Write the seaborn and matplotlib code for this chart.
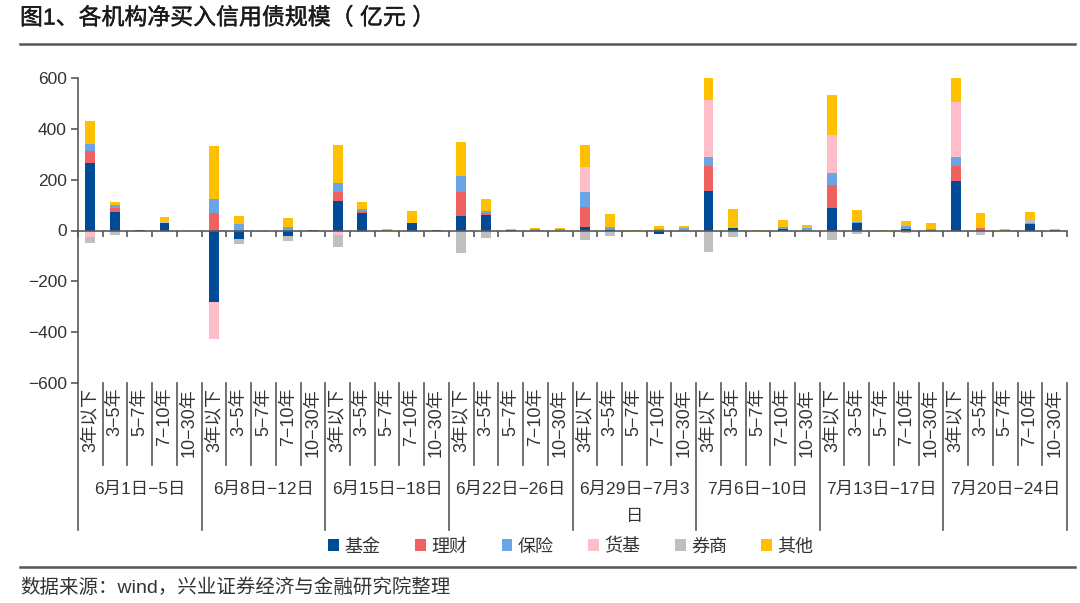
import numpy as np
import pandas as pd
import matplotlib
matplotlib.use("Agg")
import matplotlib.pyplot as plt
import matplotlib.transforms as mtransforms
import matplotlib.patheffects as pe
from matplotlib.lines import Line2D
from matplotlib.patches import Patch
import seaborn as sns

plt.rcParams['font.family'] = ['Liberation Sans', 'Noto Sans CJK SC']
plt.rcParams['axes.unicode_minus'] = True

# ---------------- data ----------------
weeks = ["6月1日−5日", "6月8日−12日", "6月15日−18日", "6月22日−26日",
         "6月29日−7月3\n日", "7月6日−10日", "7月13日−17日", "7月20日−24日"]
buckets = ["3年以下", "3−5年", "5−7年", "7−10年", "10−30年"]
series_names = ["基金", "理财", "保险", "货基", "券商", "其他"]
series_colors = ["#004B97", "#F06262", "#6AA5E6", "#FFBDC9", "#BFBFBF", "#FFC000"]

fund = [265, 71, 2, 31, 0,   -280, -33, 0, -20, 3,   117, 67, 0, 28, 2,   56, 60, 2, 0, 0,
        13, 2, 0, -12, 0,    156, 8, 0, 7, 0,        89, 28, 0, 6, 0,     193, 0, 0, 25, 2]
wealth = [46, 19, 0, 0, 0,   67, 0, 0, 0, 0,         34, 10, 0, 0, 0,     97, 9, 0, 0, 0,
          79, 5, 0, 0, 0,    98, 0, 0, 0, 0,         89, 0, 0, 0, 0,      61, 8, 0, 0, 0]
insurance = [31, 9, 0, 0, 0, 58, 26, 0, 14, 0,       36, 6, 0, 0, 0,      62, 6, 0, 6, 5,
             61, 5, 0, 6, 8, 37, 0, 0, 5, 8,         50, 4, 0, 12, 5,     36, 0, 0, 5, 0]
mmf = [-26, 0, 0, 0, 0,      -145, 0, 0, 0, 0,       -18, 0, 0, 0, 0,     0, 0, 0, 0, 0,
       96, 0, 0, 0, 0,       223, 0, 0, 0, 0,        148, 0, 0, 0, 0,     217, 0, 0, 0, 0]
broker = [-22, -16, 0, 6, 0, 0, -19, 0, -20, 0,      -45, -7, 0, 0, 0,    -89, -29, 0, -3, 0,
          -39, -20, 0, -3, -3, -83, -26, 0, -3, -3,  -38, -13, 0, -8, 0,  0, -18, 0, 15, -3]
other = [89, 12, 0, 18, -3,  208, 31, -4, 37, 0,     150, 31, 5, 47, 0,   133, 49, 4, 4, 5,
         86, 52, 3, 10, 8,   86, 76, 3, 31, 12,      158, 49, 3, 21, 24,  93, 59, 4, 27, 3]

yticks = [-600, -400, -200, 0, 200, 400, 600]

# ---------------- build stacks ----------------
vals = np.array([fund, wealth, insurance, mmf, broker, other], dtype=float)
n = vals.shape[1]
pos_cum = np.cumsum(np.clip(vals, 0, None), axis=0)
neg_cum = np.cumsum(np.clip(vals, None, 0), axis=0)
xidx = list(range(n))

fig = plt.figure(figsize=(10.8, 6.03), dpi=100)
W, H = 1080, 603
ax_l, ax_r, ax_t, ax_b = 78, 1067, 78, 383
ax = fig.add_axes([ax_l / W, 1 - ax_b / H, (ax_r - ax_l) / W, (ax_b - ax_t) / H])

for cum in (pos_cum, neg_cum):
    for i in reversed(range(len(series_names))):
        df = pd.DataFrame({"x": xidx, "y": cum[i]})
        sns.barplot(data=df, x="x", y="y", color=series_colors[i], saturation=1,
                    width=0.4, errorbar=None, linewidth=0, ax=ax, order=xidx)

ax.set_xlabel("")
ax.set_ylabel("")
ax.set_xlim(-0.5, n - 0.5)
ax.set_ylim(-600, 600)
ax.set_yticks(yticks)
ax.set_yticklabels([f"{v:d}".replace("-", "\u2212") for v in yticks])

spine_c = "#595959"
text_c = "#333333"
for s in ["top", "right"]:
    ax.spines[s].set_visible(False)
ax.spines["left"].set_color(spine_c)
ax.spines["left"].set_linewidth(1.2)
ax.spines["bottom"].set_position(("data", 0))
ax.spines["bottom"].set_color(spine_c)
ax.spines["bottom"].set_linewidth(1.2)
ax.set_xticks([k - 0.5 for k in range(n + 1)])
ax.set_xticklabels([])
ax.tick_params(axis="x", direction="out", length=4, width=1.2, color=spine_c)
ax.tick_params(axis="y", direction="out", length=5, width=1.2, color=spine_c,
               labelsize=12.5, labelcolor=text_c, pad=3)
ax.patch.set_visible(False)

trans = mtransforms.blended_transform_factory(ax.transData, ax.transAxes)
axh = ax_b - ax_t

def ay(px):
    return -(px - ax_b) / axh

# category labels & separators
for k in range(n):
    ax.text(k, ay(388), buckets[k % 5], rotation=90, ha="center", va="top",
            fontsize=13, color=text_c, transform=trans, clip_on=False)
for k in range(n + 1):
    x = k - 0.5
    bottom = ay(530) if k % 5 == 0 else ay(465)
    ax.add_line(Line2D([x, x], [0, bottom], transform=trans, color=spine_c,
                       lw=1.2, clip_on=False))
for g, wk in enumerate(weeks):
    cx = g * 5 + 2
    lines = wk.split("\n")
    ax.text(cx, ay(489), lines[0], ha="center", va="center", fontsize=12.5,
            color=text_c, transform=trans, clip_on=False)
    if len(lines) > 1:
        ax.text(cx, ay(516), lines[1], ha="center", va="center", fontsize=12.5,
                color=text_c, transform=trans, clip_on=False)

# title, rules, legend, source
fig.text(20 / W, 1 - 18 / H, "图1、各机构净买入信用债规模（ 亿元 ）", ha="left", va="center",
         fontsize=16.5, color="#1a1a1a",
         path_effects=[pe.withStroke(linewidth=0.3, foreground="#1a1a1a")])
fig.add_artist(Line2D([20 / W, 1075 / W], [1 - 44 / H, 1 - 44 / H], transform=fig.transFigure,
                      color="#555555", lw=1.8))
fig.add_artist(Line2D([20 / W, 1075 / W], [1 - 567 / H, 1 - 567 / H], transform=fig.transFigure,
                      color="#555555", lw=1.8))
handles = [Patch(facecolor=c, edgecolor="none") for c in series_colors]
fig.legend(handles, series_names, loc="center", bbox_to_anchor=(571 / W, 1 - 547 / H),
           ncol=6, frameon=False, handlelength=0.6, handleheight=0.6, handletextpad=0.3,
           columnspacing=1.9, fontsize=13, labelcolor=text_c)
fig.text(20 / W, 1 - 588 / H, "数据来源：wind，兴业证券经济与金融研究院整理", ha="left",
         va="center", fontsize=14, color=text_c)

fig.savefig("out.png", dpi=100)
